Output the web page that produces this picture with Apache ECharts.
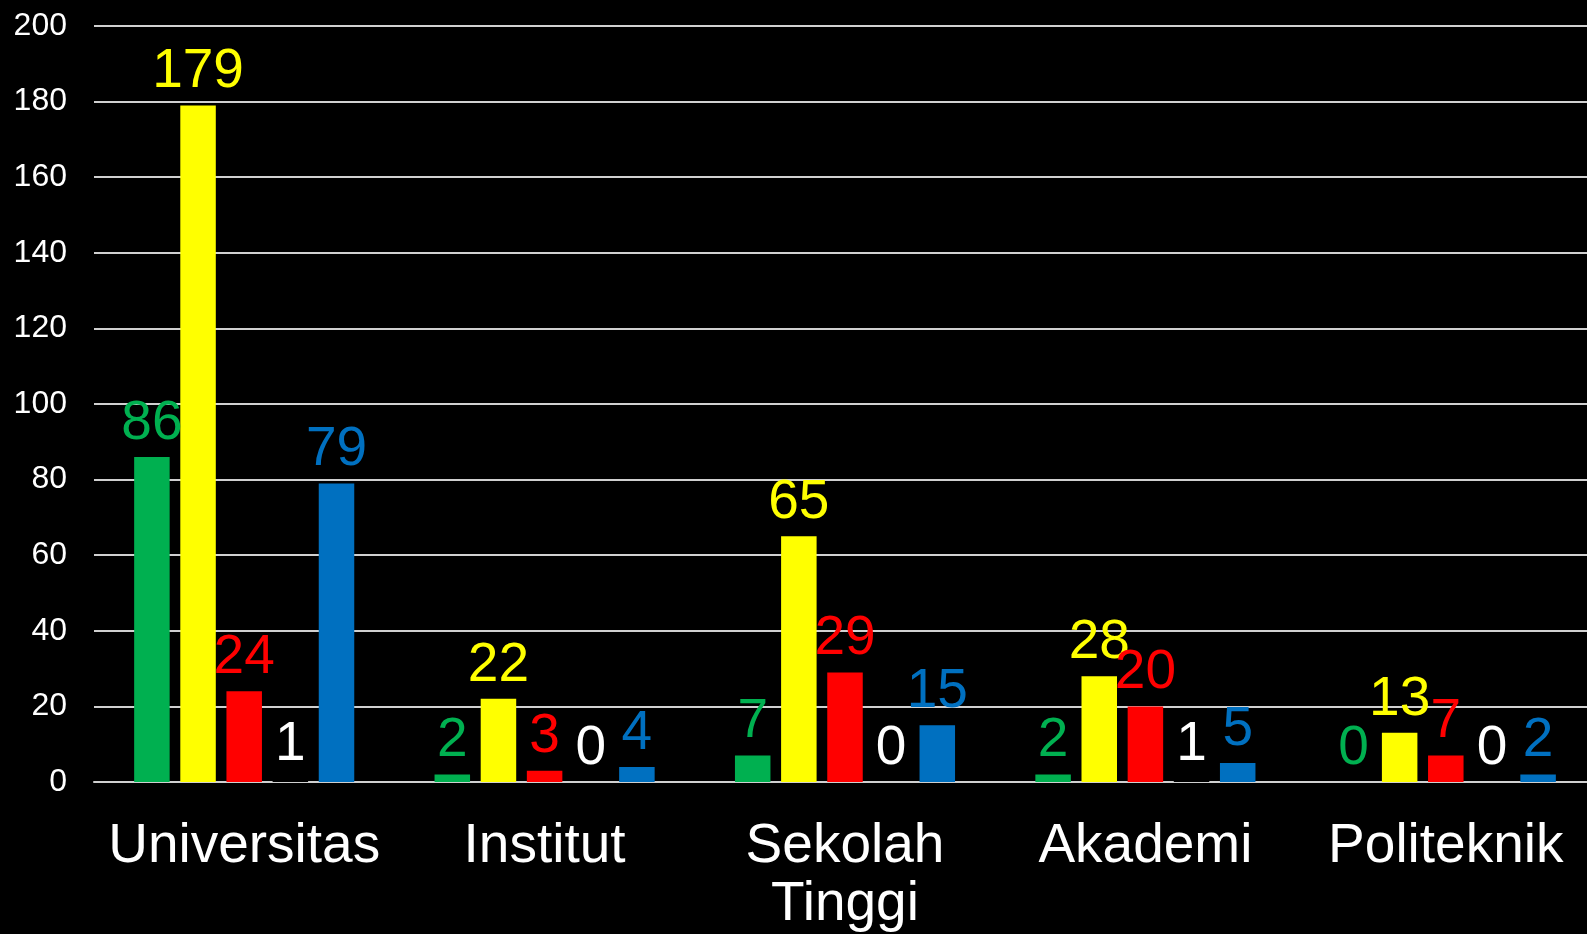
<!DOCTYPE html>
<html><head><meta charset="utf-8">
<script src="https://cdn.jsdelivr.net/npm/echarts@6/dist/echarts.min.js"></script>
<style>html,body{margin:0;padding:0;background:#000;}#c{width:1587px;height:934px;}</style>
</head><body><div id="c"></div>
<script>
const categories = ['Universitas', 'Institut', 'Sekolah\nTinggi', 'Akademi', 'Politeknik'];
const greenValues = [86, 2, 7, 2, 0];
const yellowValues = [179, 22, 65, 28, 13];
const redValues = [24, 3, 29, 20, 7];
const whiteValues = [1, 0, 0, 1, 0];
const blueValues = [79, 4, 15, 5, 2];
const yTicks = [0, 20, 40, 60, 80, 100, 120, 140, 160, 180, 200];

const font = 'Liberation Sans, Arial, sans-serif';
function mk(name, data, barColor, labelColor) {
  return {
    name, type: 'bar', data, barWidth: 35.5, barGap: '30%',
    itemStyle: { color: barColor },
    label: { show: true, position: 'top', distance: 6, color: labelColor, fontSize: 55, fontFamily: font },
    animation: false
  };
}
const chart = echarts.init(document.getElementById('c'));
chart.setOption({
  backgroundColor: '#000000',
  animation: false,
  grid: { left: 94, width: 1502, top: 26, bottom: 152, containLabel: false, outerBoundsMode: 'none' },
  xAxis: {
    type: 'category', data: categories,
    axisTick: { show: false },
    axisLine: { show: true, lineStyle: { color: '#d0d0d0', width: 2 } },
    axisLabel: { color: '#ffffff', fontSize: 55, fontFamily: font, margin: 36, lineHeight: 58, interval: 0 }
  },
  yAxis: {
    type: 'value', min: yTicks[0], max: yTicks[yTicks.length - 1], interval: yTicks[1] - yTicks[0],
    axisLine: { show: false }, axisTick: { show: false },
    splitLine: { lineStyle: { color: '#d0d0d0', width: 2 } },
    axisLabel: { color: '#ffffff', fontSize: 32, fontFamily: font, margin: 27 }
  },
  series: [
    mk('Green', greenValues, '#00B050', '#00B050'),
    mk('Yellow', yellowValues, '#FFFF00', '#FFFF00'),
    mk('Red', redValues, '#FF0000', '#FF0000'),
    mk('White', whiteValues, '#000000', '#FFFFFF'),
    mk('Blue', blueValues, '#0070C0', '#0070C0')
  ]
});
</script></body></html>
